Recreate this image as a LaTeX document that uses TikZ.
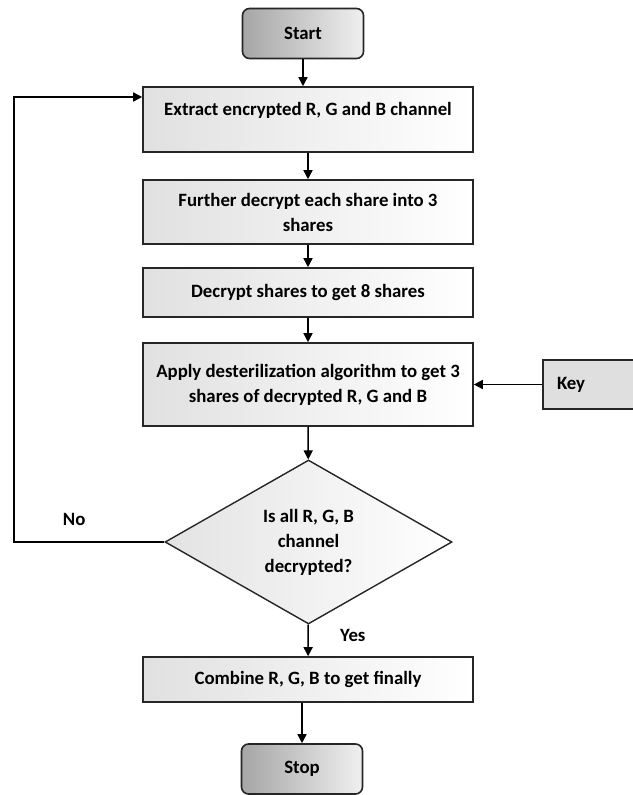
\documentclass[tikz,border=0pt]{standalone}
\usepackage{fontspec}
\setmainfont{Carlito}
\usetikzlibrary{shapes.geometric,arrows.meta}

\tikzset{
    stepbox/.style={draw=black!85, line width=1.6pt, minimum width=330pt,
        left color=gray!24, right color=white, align=center, inner sep=0pt},
    termbox/.style={draw=black!85, line width=1.6pt, rounded corners=7pt,
        minimum width=121pt, minimum height=50pt,
        left color=gray!70, right color=gray!12},
    decisionbox/.style={diamond, draw=black!85, line width=1.4pt, inner sep=0pt,
        minimum width=287pt, minimum height=164pt, left color=gray!22,
        right color=white, align=center},
    flow/.style={-{Triangle[length=9pt,width=9pt]}, line width=1.5pt}
}

\begin{document}
\begin{tikzpicture}[x=1pt, y=-1pt, font=\fontsize{18.8}{25}\selectfont\bfseries]
        % Рамка
        \useasboundingbox (0,0) rectangle (632,795);

        % Блоки
        \node[termbox] (start) at (303,33.5) {Start};
        \node[stepbox, minimum height=65pt] (extract) at (308,119.5)
            {Extract encrypted R, G and B channel\\[-3pt] \mbox{}};
        \node[stepbox, minimum height=64pt] (further) at (308,212)
            {Further decrypt each share into 3\\ shares};
        \node[stepbox, minimum height=49pt] (decrypt) at (308,292.5)
            {Decrypt shares to get 8 shares};
        \node[stepbox, minimum height=83pt] (apply) at (308,384.5)
            {Apply desterilization algorithm to get 3\\ shares of decrypted R, G and B};
        \node[draw=black!85, line width=1.6pt, fill=gray!25, minimum width=100pt,
            minimum height=49pt, text width=72pt, align=left] (key) at (593,384.5) {Key};
        \node[decisionbox] (check) at (308.5,542)
            {Is all R, G, B\\ channel\\ decrypted?};
        \node[stepbox, minimum height=45pt] (combine) at (308,679.5)
            {Combine R, G, B to get finally};
        \node[termbox] (stop) at (302,769) {Stop};

        % Обратная связь
        \coordinate (loopbot) at (14,542);
        \coordinate (looptop) at (14,97);

        % Стрелки
        \draw[flow] (start) -- (start |- extract.north);
        \draw[flow] (extract) -- (further);
        \draw[flow] (further) -- (decrypt);
        \draw[flow] (decrypt) -- (apply);
        \draw[flow] (key) -- (apply);
        \draw[flow] (apply) -- (check);
        \draw[flow] (check) -- node[right=28pt, pos=0.35] {Yes} (combine);
        \draw[flow] (stop |- combine.south) -- (stop);
        \draw[flow] (check.west) -- node[above=12pt, pos=0.6] {No} (loopbot)
            -- (looptop) -- (looptop -| extract.west);
    \end{tikzpicture}
\end{document}
